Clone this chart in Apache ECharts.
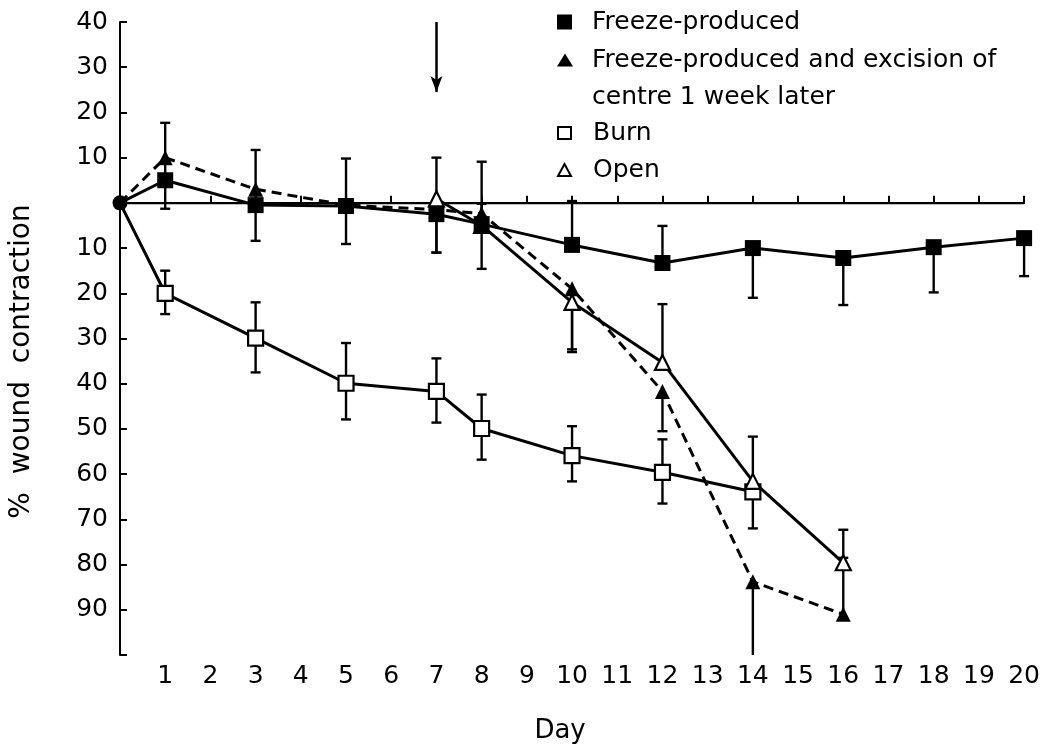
<!DOCTYPE html>
<html>
<head>
<meta charset="utf-8">
<script src="https://cdn.jsdelivr.net/npm/echarts@6/dist/echarts.min.js"></script>
<style>html,body{margin:0;padding:0;background:#fff}#c{width:1043px;height:750px}</style>
</head>
<body>
<div id="c"></div>
<script>
// ---- data (value > 0 = expansion, < 0 = contraction) ----
const seriesNames = ['Freeze-produced', 'Freeze-produced and excision of\ncentre 1 week later', 'Burn', 'Open'];

const freezeDays = [0, 1, 3, 5, 7, 8, 10, 12, 14, 16, 18, 20];
const freezeVals = [0, 5, -0.5, -0.7, -2.5, -4.7, -9.3, -13.3, -10, -12.2, -9.8, -7.8];
const freezeLo   = [null, -1.3, -8.4, -9.1, -11, -14.6, null, null, -21, -22.6, -19.8, -16.2];
const freezeHi   = [null, null, 11.7, 9.8, null, 9.1, 0.4, -5.1, null, null, null, null];

const excDays = [0, 1, 3, 5, 7, 8, 10, 12, 14, 16];
const excVals = [0, 10, 3, -0.5, -1.5, -2.4, -19, -41.7, -83.8, -91];
const excLo   = [null, 5, null, null, null, null, -33, -50.5, -100, null];
const excHi   = [null, 17.7, null, null, null, null, null, null, null, -78.5];

const burnDays = [0, 1, 3, 5, 7, 8, 10, 12, 14];
const burnVals = [0, -20, -29.9, -39.9, -41.7, -49.9, -55.9, -59.6, -63.9];
const burnLo   = [null, -24.6, -37.5, -47.9, -48.6, -56.8, -61.6, -66.5, -72];
const burnHi   = [null, -15, -22, -31, -34.4, -42.4, -49.4, -52.3, null];

const openDays = [7, 8, 10, 12, 14, 16];
const openVals = [0.9, -5, -22, -35.3, -61.6, -79.6];
const openLo   = [-11, null, -32.4, null, null, null];
const openHi   = [10, -0.2, null, -22.4, -51.7, -72.3];

const xTickLabels = ['', '1', '2', '3', '4', '5', '6', '7', '8', '9', '10', '11', '12', '13', '14', '15', '16', '17', '18', '19', '20'];
const yTickLabels = {40: '40', 30: '30', 20: '20', 10: '10', 0: '', '-10': '10', '-20': '20', '-30': '30', '-40': '40',
  '-50': '50', '-60': '60', '-70': '70', '-80': '80', '-90': '90', '-100': ''};
const excisionDay = 7;

// ---- build ----
const FONT = 'DejaVu Sans';
function pts(days, vals, firstSymbol) {
  return days.map((d, i) => {
    if (i === 0 && d === 0) return { value: [d, vals[i]], symbol: firstSymbol, symbolSize: 15, itemStyle: { color: '#000', borderColor: '#000' } };
    return [d, vals[i]];
  });
}
function errData(days, vals, lo, hi) {
  const out = [];
  days.forEach((d, i) => {
    if (lo[i] == null && hi[i] == null) return;
    out.push([d, lo[i] == null ? vals[i] : lo[i], hi[i] == null ? vals[i] : hi[i],
      (lo[i] != null && lo[i] > -100) ? 1 : 0, hi[i] != null ? 1 : 0]);
  });
  return out;
}
function errSeries(data) {
  return {
    type: 'custom', z: 1, silent: true, data: data,
    encode: { x: 0, y: [1, 2] },
    renderItem: function (params, api) {
      const x = api.value(0);
      const a = api.coord([x, api.value(1)]);
      const b = api.coord([x, api.value(2)]);
      const st = { stroke: '#000', lineWidth: 2.4 };
      const ch = [{ type: 'line', shape: { x1: a[0], y1: a[1], x2: b[0], y2: b[1] }, style: st }];
      if (api.value(3)) ch.push({ type: 'line', shape: { x1: a[0] - 5, y1: a[1], x2: a[0] + 5, y2: a[1] }, style: st });
      if (api.value(4)) ch.push({ type: 'line', shape: { x1: b[0] - 5, y1: b[1], x2: b[0] + 5, y2: b[1] }, style: st });
      return { type: 'group', children: ch };
    }
  };
}

const legendText = { fontFamily: FONT, fontSize: 25, color: '#000', lineHeight: 37 };
const chart = echarts.init(document.getElementById('c'), null, { renderer: 'canvas' });
chart.setOption({
  animation: false,
  backgroundColor: '#fff',
  textStyle: { fontFamily: FONT, color: '#000' },
  grid: { left: 120, right: 16, top: 22, bottom: 95 },
  legend: [
    { data: [{ name: seriesNames[0], icon: 'rect', itemStyle: { color: '#000', borderWidth: 0 } }],
      orient: 'vertical', left: 557, top: 3.5, padding: 0, itemGap: 0, itemWidth: 15, itemHeight: 15, selectedMode: false,
      textStyle: Object.assign({ padding: [0, 0, 0, 15] }, legendText) },
    { data: [{ name: seriesNames[1], icon: 'triangle', itemStyle: { color: '#000', borderWidth: 0 } }],
      formatter: name => '\n' + name,
      orient: 'vertical', left: 557, top: 4.5, padding: 0, itemGap: 0, itemWidth: 16, itemHeight: 13, selectedMode: false,
      textStyle: Object.assign({ padding: [0, 0, 0, 14] }, legendText) },
    { data: [{ name: seriesNames[2], icon: 'rect', itemStyle: { color: '#fff', borderColor: '#000', borderWidth: 2 } },
             { name: seriesNames[3], icon: 'triangle', itemStyle: { color: '#fff', borderColor: '#000', borderWidth: 2 } }],
      orient: 'vertical', left: 557, top: 114.5, padding: 0, itemGap: 0, itemWidth: 13, itemHeight: 12, selectedMode: false,
      textStyle: Object.assign({ padding: [0, 0, 0, 17] }, legendText) }
  ],
  xAxis: {
    type: 'value', min: 0, max: 20, interval: 1,
    name: 'Day', nameLocation: 'middle', nameGap: 63,
    nameTextStyle: { fontFamily: FONT, fontSize: 26, color: '#000', padding: [0, 24, 0, 0] },
    axisLine: { lineStyle: { color: '#000', width: 2 } },
    axisTick: { inside: true, length: 7, lineStyle: { color: '#000', width: 2 } },
    axisLabel: { fontFamily: FONT, fontSize: 25, color: '#000', margin: 9, formatter: v => xTickLabels[v] },
    splitLine: { show: false }
  },
  yAxis: {
    type: 'value', min: -100, max: 40, interval: 10,
    name: '%  wound  contraction', nameLocation: 'middle', nameGap: 84,
    nameTextStyle: { fontFamily: FONT, fontSize: 28, color: '#000', padding: [0, 46, 0, 0] },
    axisLine: { lineStyle: { color: '#000', width: 2 } },
    axisTick: { inside: true, length: 7, lineStyle: { color: '#000', width: 2 } },
    axisLabel: { fontFamily: FONT, fontSize: 25, color: '#000', margin: 12, formatter: v => yTickLabels[v] },
    splitLine: { show: false }
  },
  series: [
    errSeries(errData(freezeDays, freezeVals, freezeLo, freezeHi)),
    errSeries(errData(excDays, excVals, excLo, excHi)),
    errSeries(errData(burnDays, burnVals, burnLo, burnHi)),
    errSeries(errData(openDays, openVals, openLo, openHi)),
    {
      name: seriesNames[2], type: 'line', z: 3, data: pts(burnDays, burnVals, 'none'),
      symbol: 'rect', symbolSize: 15, showAllSymbol: true,
      lineStyle: { color: '#000', width: 3 },
      itemStyle: { color: '#fff', borderColor: '#000', borderWidth: 2.2 }
    },
    {
      name: seriesNames[1], type: 'line', z: 4, data: pts(excDays, excVals, 'none'),
      symbol: 'triangle', symbolSize: 15, showAllSymbol: true,
      lineStyle: { color: '#000', width: 3, type: [10, 6] },
      itemStyle: { color: '#000', borderColor: '#000', borderWidth: 0 }
    },
    {
      name: seriesNames[3], type: 'line', z: 5, data: openDays.map((d, i) => [d, openVals[i]]),
      symbol: 'triangle', symbolSize: 15, showAllSymbol: true,
      lineStyle: { color: '#000', width: 3 },
      itemStyle: { color: '#fff', borderColor: '#000', borderWidth: 2.2 }
    },
    {
      name: seriesNames[0], type: 'line', z: 6, data: pts(freezeDays, freezeVals, 'circle'),
      symbol: 'rect', symbolSize: 16, showAllSymbol: true,
      lineStyle: { color: '#000', width: 3 },
      itemStyle: { color: '#000', borderColor: '#000', borderWidth: 0 },
      markLine: {
        silent: true, symbol: ['none', 'none'], label: { show: false },
        data: [
          { yAxis: 0, lineStyle: { color: '#000', width: 1.4, type: 'solid' } },
          [ { coord: [excisionDay, 40], symbol: 'none', lineStyle: { color: '#000', width: 2.5, type: 'solid' } },
            { coord: [excisionDay, 24.5], symbol: 'arrow', symbolSize: [9, 16] } ]
        ]
      }
    }
  ]
});
</script>
</body>
</html>
